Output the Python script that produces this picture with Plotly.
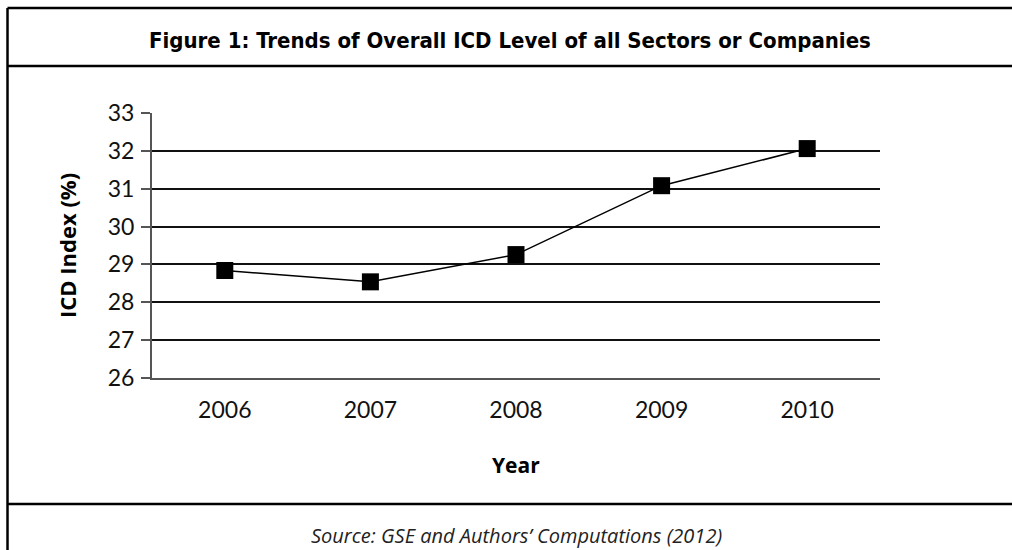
import plotly.graph_objects as go

years = ["2006", "2007", "2008", "2009", "2010"]
icd_index = [28.84, 28.54, 29.26, 31.08, 32.06]
y_ticks = [26, 27, 28, 29, 30, 31, 32, 33]

W, H = 1012, 550
L, R, T, B = 152, 132, 113, 172
pw, ph = W - L - R, H - T - B

def px(x):
    return (x - L) / pw

def py(y):
    return (H - B - y) / ph

fig = go.Figure()
fig.add_trace(go.Scatter(
    x=years, y=icd_index, mode="lines+markers",
    line=dict(color="black", width=1.5),
    marker=dict(symbol="square", size=17, color="black"),
    showlegend=False, hoverinfo="skip",
))

TICKFONT = dict(family="Lato, Open Sans, sans-serif", size=23, color="#111")

fig.update_layout(
    width=W, height=H,
    margin=dict(l=L, r=R, t=T, b=B, pad=0),
    paper_bgcolor="white", plot_bgcolor="white",
    xaxis=dict(
        type="category", range=[-0.5, len(years) - 0.5],
        showgrid=False, zeroline=False,
        showline=True, linecolor="#555", linewidth=2,
        ticks="", tickfont=TICKFONT, ticklabelstandoff=10,
    ),
    yaxis=dict(
        range=[26, 33], tickvals=y_ticks, showgrid=True,
        gridcolor="#111", gridwidth=1.5, zeroline=False,
        showline=True, linecolor="#555", linewidth=2,
        ticks="outside", ticklen=9, tickwidth=1.5, tickcolor="#555",
        tickfont=TICKFONT, ticklabelstandoff=2,
    ),
)

lines = [
    (7.5, 8, W, 8),        # top border
    (7.5, 8, 7.5, H),      # left border
    (7.5, 66, W, 66),      # title separator
    (7.5, 504, W, 504),    # bottom separator
]
for x0, y0, x1, y1 in lines:
    fig.add_shape(type="line", xref="paper", yref="paper",
                  x0=px(x0), y0=py(y0), x1=px(x1), y1=py(y1),
                  line=dict(color="black", width=2.5), layer="above")

fig.add_annotation(
    text="<b>Figure 1: Trends of Overall ICD Level of all Sectors or Companies</b>",
    xref="paper", yref="paper", x=px(510), y=py(40), showarrow=False,
    xanchor="center", yanchor="middle",
    font=dict(family="DejaVu Sans Condensed, sans-serif", size=22, color="black"),
)
fig.add_annotation(
    text="<b>ICD Index (%)</b>", textangle=-90,
    xref="paper", yref="paper", x=px(67), y=py(246), showarrow=False,
    xanchor="center", yanchor="middle",
    font=dict(family="Open Sans, Lato, sans-serif", size=22, color="black"),
)
fig.add_annotation(
    text="<b>Year</b>",
    xref="paper", yref="paper", x=px(516), y=py(465), showarrow=False,
    xanchor="center", yanchor="middle",
    font=dict(family="Open Sans, Lato, sans-serif", size=21, color="black"),
)
fig.add_annotation(
    text="<i>Source: GSE and Authors’ Computations (2012)</i>",
    xref="paper", yref="paper", x=px(516), y=py(535), showarrow=False,
    xanchor="center", yanchor="middle",
    font=dict(family="Open Sans, Lato, sans-serif", size=20, color="#222"),
)

fig.write_html("out.html")
